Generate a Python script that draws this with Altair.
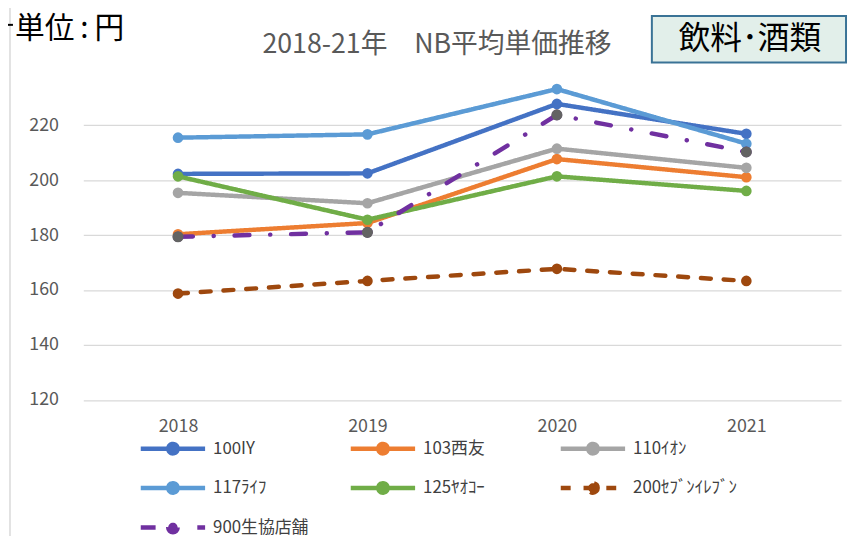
import altair as alt
import pandas as pd

years = ["2018", "2019", "2020", "2021"]
names = ["100IY", "103西友", "110ｲｵﾝ", "117ﾗｲﾌ", "125ﾔｵｺｰ", "200ｾﾌﾞﾝｲﾚﾌﾞﾝ", "900生協店舗"]
v_100 = [202.3, 202.5, 227.8, 216.9]
v_103 = [180.3, 184.4, 207.7, 201.1]
v_110 = [195.4, 191.6, 211.5, 204.5]
v_117 = [215.5, 216.7, 233.2, 213.3]
v_125 = [201.4, 185.6, 201.4, 196.1]
v_200 = [158.7, 163.3, 167.7, 163.3]
v_900 = [179.4, 181.0, 223.8, 210.3]
series = [v_100, v_103, v_110, v_117, v_125, v_200, v_900]

line_colors = ["#4472C4", "#ED7D31", "#A5A5A5", "#5B9BD5", "#70AD47", "#9E480E", "#7030A0"]
coop_marker = "#636363"
dashes = [[1, 0], [1, 0], [1, 0], [1, 0], [1, 0], [10, 13], [15, 21, 0.1, 21]]

rows = []
for n, vals in zip(names, series):
    for y, v in zip(years, vals):
        rows.append({"year": y, "name": n, "value": v})
df = pd.DataFrame(rows)

FONT = "Noto Sans CJK JP"
# legend glyph: a 65px line with a dot in the middle (path units: 1 unit = ~10.8px)
sym_path = "M-3,0L3,0M0.44,0A0.44,0.44,0,1,1,-0.44,0A0.44,0.44,0,1,1,0.44,0Z"

leg = alt.Legend(
    title=None, orient="none", legendX=77, legendY=368, columns=3, direction="horizontal",
    gridAlign="all", columnPadding=25, rowPadding=11,
    symbolType=sym_path, symbolSize=469, symbolStrokeWidth=4.5,
    labelFont=FONT, labelFontSize=17, labelColor="#404040", labelOffset=27,
)

xenc = alt.X("year:O", scale=alt.Scale(type="point", padding=0.5),
             axis=alt.Axis(title=None, labelAngle=0, ticks=False, tickSize=0, domain=False,
                           labelPadding=18, labelFont=FONT, labelFontSize=18,
                           labelColor="#595959", grid=False))
yenc = alt.Y("value:Q", scale=alt.Scale(domain=[120, 240], nice=False, zero=False),
             axis=alt.Axis(title=None, values=[120, 140, 160, 180, 200, 220], ticks=False,
                           tickSize=0, domain=False, labelPadding=25, labelFont=FONT,
                           labelFontSize=18, labelColor="#595959", gridColor="#d9d9d9",
                           gridWidth=1.3))

color = alt.Color("name:N", scale=alt.Scale(domain=names, range=line_colors), legend=leg)
dash = alt.StrokeDash("name:N", scale=alt.Scale(domain=names, range=dashes), legend=leg)

base = alt.Chart(df)
lines = base.mark_line(strokeWidth=4.5, strokeCap="round", strokeJoin="round").encode(
    x=xenc, y=yenc, color=color, strokeDash=dash, detail="name:N")
points = base.mark_point(filled=True, size=115, opacity=1, shape="circle").encode(
    x="year:O", y="value:Q", color=color)
coop_points = base.transform_filter(alt.datum.name == names[-1]).mark_point(
    filled=True, size=125, opacity=1, shape="circle", color=coop_marker).encode(
    x="year:O", y="value:Q")

title = alt.Chart(pd.DataFrame({"t": ["2018-21年　NB平均単価推移"]})).mark_text(
    font=FONT, fontSize=27, color="#595959", align="center", baseline="middle").encode(
    x=alt.value(357), y=alt.value(-26), text="t:N")
unit = alt.Chart(pd.DataFrame({"t": ["単位\u2009:\u2009円"]})).mark_text(
    font=FONT, fontSize=30, color="#000000", align="left", baseline="middle").encode(
    x=alt.value(-69), y=alt.value(-42), text="t:N")
box = alt.Chart(pd.DataFrame({"t": ["b"]})).mark_rect(
    fill="#E2EFEA", stroke="#3A7396", strokeWidth=2).encode(
    x=alt.value(574), x2=alt.value(770), y=alt.value(-55), y2=alt.value(-8))
boxtext = alt.Chart(pd.DataFrame({"t": ["飲料･酒類"]})).mark_text(
    font=FONT, fontSize=32, color="#000000", align="center", baseline="middle").encode(
    x=alt.value(673), y=alt.value(-32), text="t:N")
border = alt.Chart(pd.DataFrame({"t": ["b"]})).mark_rule(color="#d9d9d9", strokeWidth=1.5).encode(
    x=alt.value(-74), y=alt.value(-68), y2=alt.value(480))
tick = alt.Chart(pd.DataFrame({"t": ["b"]})).mark_rule(color="#000000", strokeWidth=2).encode(
    x=alt.value(-76), x2=alt.value(-71), y=alt.value(-46))

chart = alt.layer(border, lines, points, coop_points, title, unit, box, boxtext, tick).properties(
    width=765, height=332.5,
    autosize=alt.AutoSizeParams(type="none"),
    padding={"left": 76, "top": 60.5, "right": 7, "bottom": 135},
    background="white",
).configure_view(stroke=None, clip=False)

chart.save("out.html", embed_options={"renderer": "svg", "actions": False})
